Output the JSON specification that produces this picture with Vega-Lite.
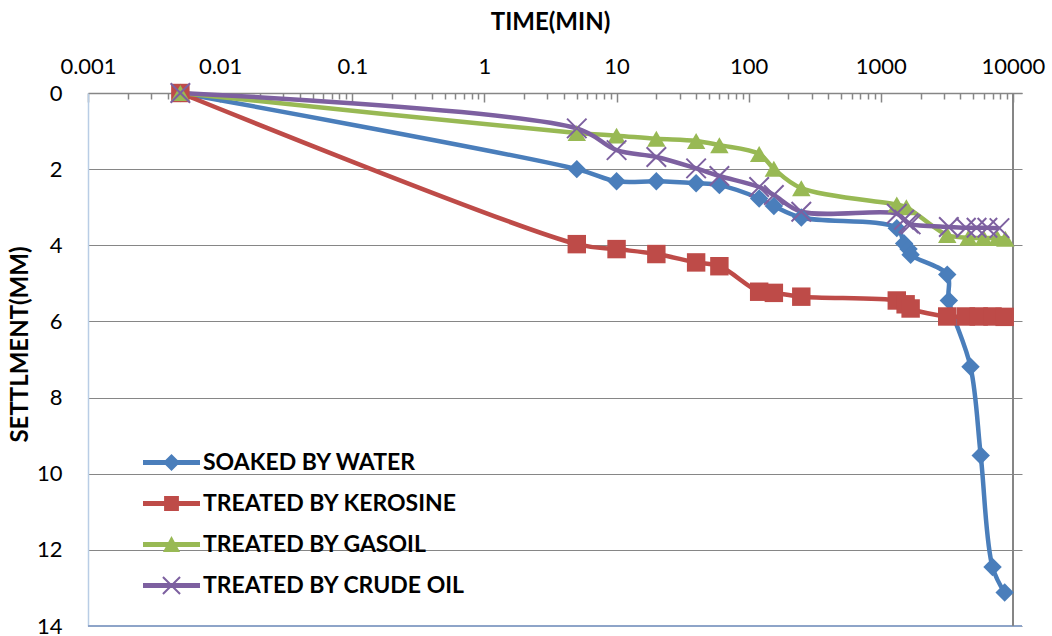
{
  "$schema": "https://vega.github.io/schema/vega-lite/v6.json",
  "width": 934,
  "height": 533,
  "autosize": "none",
  "padding": {"left": 88, "top": 93, "right": 30, "bottom": 10},
  "background": "white",
  "config": {"font": "Lato", "view": {"stroke": null}},
  "data": {"values": [
    {"series": "SOAKED BY WATER", "time": 0.005, "settlement": 0},
    {"series": "SOAKED BY WATER", "time": 5, "settlement": 2.0},
    {"series": "SOAKED BY WATER", "time": 10, "settlement": 2.32},
    {"series": "SOAKED BY WATER", "time": 20, "settlement": 2.32},
    {"series": "SOAKED BY WATER", "time": 40, "settlement": 2.37},
    {"series": "SOAKED BY WATER", "time": 60, "settlement": 2.42},
    {"series": "SOAKED BY WATER", "time": 120, "settlement": 2.77},
    {"series": "SOAKED BY WATER", "time": 155, "settlement": 2.97},
    {"series": "SOAKED BY WATER", "time": 250, "settlement": 3.27},
    {"series": "SOAKED BY WATER", "time": 1320, "settlement": 3.55},
    {"series": "SOAKED BY WATER", "time": 1500, "settlement": 3.95},
    {"series": "SOAKED BY WATER", "time": 1620, "settlement": 4.1},
    {"series": "SOAKED BY WATER", "time": 1680, "settlement": 4.25},
    {"series": "SOAKED BY WATER", "time": 3180, "settlement": 4.77},
    {"series": "SOAKED BY WATER", "time": 3270, "settlement": 5.45},
    {"series": "SOAKED BY WATER", "time": 4770, "settlement": 7.19},
    {"series": "SOAKED BY WATER", "time": 5700, "settlement": 9.52},
    {"series": "SOAKED BY WATER", "time": 7000, "settlement": 12.45},
    {"series": "SOAKED BY WATER", "time": 8650, "settlement": 13.12},
    {"series": "TREATED BY KEROSINE", "time": 0.005, "settlement": 0},
    {"series": "TREATED BY KEROSINE", "time": 5, "settlement": 3.97},
    {"series": "TREATED BY KEROSINE", "time": 10, "settlement": 4.1},
    {"series": "TREATED BY KEROSINE", "time": 20, "settlement": 4.23},
    {"series": "TREATED BY KEROSINE", "time": 40, "settlement": 4.45},
    {"series": "TREATED BY KEROSINE", "time": 60, "settlement": 4.55},
    {"series": "TREATED BY KEROSINE", "time": 120, "settlement": 5.22},
    {"series": "TREATED BY KEROSINE", "time": 155, "settlement": 5.25},
    {"series": "TREATED BY KEROSINE", "time": 250, "settlement": 5.35},
    {"series": "TREATED BY KEROSINE", "time": 1320, "settlement": 5.45},
    {"series": "TREATED BY KEROSINE", "time": 1540, "settlement": 5.55},
    {"series": "TREATED BY KEROSINE", "time": 1680, "settlement": 5.66},
    {"series": "TREATED BY KEROSINE", "time": 3180, "settlement": 5.87},
    {"series": "TREATED BY KEROSINE", "time": 4400, "settlement": 5.87},
    {"series": "TREATED BY KEROSINE", "time": 5500, "settlement": 5.87},
    {"series": "TREATED BY KEROSINE", "time": 7000, "settlement": 5.87},
    {"series": "TREATED BY KEROSINE", "time": 8650, "settlement": 5.88},
    {"series": "TREATED BY GASOIL", "time": 0.005, "settlement": 0},
    {"series": "TREATED BY GASOIL", "time": 5, "settlement": 1.05},
    {"series": "TREATED BY GASOIL", "time": 10, "settlement": 1.12},
    {"series": "TREATED BY GASOIL", "time": 20, "settlement": 1.2},
    {"series": "TREATED BY GASOIL", "time": 40, "settlement": 1.26},
    {"series": "TREATED BY GASOIL", "time": 60, "settlement": 1.37},
    {"series": "TREATED BY GASOIL", "time": 120, "settlement": 1.6},
    {"series": "TREATED BY GASOIL", "time": 155, "settlement": 1.99},
    {"series": "TREATED BY GASOIL", "time": 250, "settlement": 2.5},
    {"series": "TREATED BY GASOIL", "time": 1320, "settlement": 2.93},
    {"series": "TREATED BY GASOIL", "time": 1560, "settlement": 3.0},
    {"series": "TREATED BY GASOIL", "time": 3180, "settlement": 3.73},
    {"series": "TREATED BY GASOIL", "time": 4600, "settlement": 3.8},
    {"series": "TREATED BY GASOIL", "time": 6000, "settlement": 3.81},
    {"series": "TREATED BY GASOIL", "time": 7600, "settlement": 3.81},
    {"series": "TREATED BY GASOIL", "time": 8750, "settlement": 3.83},
    {"series": "TREATED BY CRUDE OIL", "time": 0.005, "settlement": 0},
    {"series": "TREATED BY CRUDE OIL", "time": 5, "settlement": 0.93},
    {"series": "TREATED BY CRUDE OIL", "time": 10, "settlement": 1.5},
    {"series": "TREATED BY CRUDE OIL", "time": 20, "settlement": 1.68},
    {"series": "TREATED BY CRUDE OIL", "time": 40, "settlement": 1.98},
    {"series": "TREATED BY CRUDE OIL", "time": 60, "settlement": 2.18},
    {"series": "TREATED BY CRUDE OIL", "time": 120, "settlement": 2.47},
    {"series": "TREATED BY CRUDE OIL", "time": 155, "settlement": 2.68},
    {"series": "TREATED BY CRUDE OIL", "time": 250, "settlement": 3.12},
    {"series": "TREATED BY CRUDE OIL", "time": 1320, "settlement": 3.17},
    {"series": "TREATED BY CRUDE OIL", "time": 1500, "settlement": 3.33},
    {"series": "TREATED BY CRUDE OIL", "time": 1620, "settlement": 3.42},
    {"series": "TREATED BY CRUDE OIL", "time": 1680, "settlement": 3.45},
    {"series": "TREATED BY CRUDE OIL", "time": 3270, "settlement": 3.52},
    {"series": "TREATED BY CRUDE OIL", "time": 4400, "settlement": 3.54},
    {"series": "TREATED BY CRUDE OIL", "time": 5300, "settlement": 3.54},
    {"series": "TREATED BY CRUDE OIL", "time": 6400, "settlement": 3.54},
    {"series": "TREATED BY CRUDE OIL", "time": 7900, "settlement": 3.55}
  ]},
  "layer": [
    {
      "mark": {"type": "rule", "color": "#8EA4C8", "strokeWidth": 1.5},
      "encoding": {
        "y": {
          "datum": 14, "type": "quantitative",
          "scale": {"domain": [0, 14], "reverse": true, "nice": false, "zero": false},
          "axis": {
            "orient": "left", "title": "SETTLMENT(MM)",
            "values": [0, 2, 4, 6, 8, 10, 12, 14],
            "ticks": false, "labelPadding": 26, "labelFontSize": 22, "labelColor": "black", "labelFont": "Lato",
            "grid": true, "gridColor": "#868686", "gridWidth": 1,
            "domainColor": "#B9CDE5", "domainWidth": 1.5,
            "titleFontSize": 24, "titleFontWeight": "bold", "titleColor": "black", "titleFont": "Lato",
            "titleX": -68, "titleY": 251, "titleAlign": "center", "titleBaseline": "middle", "titleAngle": -90,
            "labelFlush": false, "labelOverlap": false, "labelBound": false
          }
        }
      }
    },
    {
      "mark": {"type": "rule", "color": "#868686", "strokeWidth": 1.5},
      "encoding": {
        "x": {
          "datum": 10000, "type": "quantitative",
          "scale": {"type": "log", "domain": [0.001, 11700], "nice": false},
          "axis": {
            "orient": "top", "title": "TIME(MIN)",
            "values": [0.001,0.002,0.003,0.004,0.005,0.006,0.007,0.008,0.009,0.01,0.02,0.03,0.04,0.05,0.06,0.07,0.08,0.09,0.1,0.2,0.3,0.4,0.5,0.6,0.7,0.8,0.9,1,2,3,4,5,6,7,8,9,10,20,30,40,50,60,70,80,90,100,200,300,400,500,600,700,800,900,1000,2000,3000,4000,5000,6000,7000,8000,9000,10000],
            "labelExpr": "abs(log(datum.value)/LN10 - round(log(datum.value)/LN10)) < 0.000001 ? (datum.value < 1 ? format(datum.value, '.' + (-round(log(datum.value)/LN10)) + 'f') : format(datum.value, 'd')) : ''",
            "labelFontSize": 22, "labelColor": "black", "labelPadding": 24, "labelFont": "Lato",
            "tickColor": "#868686", "tickWidth": 1.5,
            "tickSize": {"condition": {"test": "abs(log(datum.value)/LN10 - round(log(datum.value)/LN10)) < 0.000001", "value": -9}, "value": -6},
            "domainColor": "#868686", "domainWidth": 1.5, "grid": false,
            "titleFontSize": 24, "titleFontWeight": "bold", "titleColor": "black", "titleFont": "Lato",
            "titleX": 462, "titleY": -71, "titleBaseline": "middle", "titleAlign": "center",
            "labelFlush": false, "labelOverlap": false, "labelBound": false
          }
        }
      }
    },
    {
      "mark": {"type": "line", "strokeWidth": 4.5, "interpolate": "catmull-rom"},
      "encoding": {
        "x": {"field": "time", "type": "quantitative"},
        "y": {"field": "settlement", "type": "quantitative"},
        "color": {"field": "series", "type": "nominal", "legend": null,
          "scale": {"domain": ["SOAKED BY WATER", "TREATED BY KEROSINE", "TREATED BY GASOIL", "TREATED BY CRUDE OIL"],
                    "range": ["#4A7EBB", "#BE4B48", "#98B954", "#7D60A0"]}}
      }
    },
    {
      "transform": [{"filter": "datum.series != 'TREATED BY CRUDE OIL'"}],
      "mark": {"type": "point", "filled": true, "opacity": 1, "size": 340},
      "encoding": {
        "x": {"field": "time", "type": "quantitative"},
        "y": {"field": "settlement", "type": "quantitative"},
        "color": {"field": "series", "type": "nominal", "legend": null},
        "shape": {"field": "series", "type": "nominal", "legend": null,
          "scale": {"domain": ["SOAKED BY WATER", "TREATED BY KEROSINE", "TREATED BY GASOIL"],
                    "range": ["diamond", "square", "triangle-up"]}}
      }
    },
    {
      "transform": [{"filter": "datum.series == 'TREATED BY CRUDE OIL'"}],
      "mark": {"type": "point", "filled": false, "opacity": 1, "size": 380, "strokeWidth": 2, "shape": "M-1,-1L1,1M-1,1L1,-1"},
      "encoding": {
        "x": {"field": "time", "type": "quantitative"},
        "y": {"field": "settlement", "type": "quantitative"},
        "color": {"field": "series", "type": "nominal", "legend": null}
      }
    },
    {
      "mark": {"type": "point", "filled": true, "opacity": 0},
      "encoding": {
        "x": {"field": "time", "type": "quantitative"},
        "y": {"field": "settlement", "type": "quantitative"},
        "color": {"field": "series", "type": "nominal",
          "legend": {"title": null, "orient": "none", "legendX": 55, "legendY": 341, "symbolSize": 3249, "symbolOpacity": 1, "symbolStrokeWidth": 0,
                     "labelFontSize": 23, "labelFontWeight": "bold", "labelColor": "black", "labelFont": "Lato", "labelOffset": 3, "rowPadding": -10, "padding": 0, "labelLimit": 500}},
        "shape": {"field": "series", "type": "nominal",
          "scale": {"domain": ["SOAKED BY WATER", "TREATED BY KEROSINE", "TREATED BY GASOIL", "TREATED BY CRUDE OIL"],
                    "range": [
                      "M-1,-0.085L1,-0.085L1,0.085L-1,0.085Z M-0.3,0L0,-0.3L0.3,0L0,0.3Z",
                      "M-1,-0.085L1,-0.085L1,0.085L-1,0.085Z M-0.26,-0.26L0.26,-0.26L0.26,0.26L-0.26,0.26Z",
                      "M-1,-0.085L1,-0.085L1,0.085L-1,0.085Z M-0.3,0.26L0,-0.3L0.3,0.26Z",
                      "M-1,-0.085L1,-0.085L1,0.085L-1,0.085Z M-0.275,-0.325L0.325,0.275L0.275,0.325L-0.325,-0.275Z M-0.325,0.275L0.275,-0.325L0.325,-0.275L-0.275,0.325Z"
                    ]},
          "legend": {"title": null, "orient": "none", "legendX": 55, "legendY": 341, "symbolSize": 3249, "symbolOpacity": 1, "symbolStrokeWidth": 0,
                     "labelFontSize": 23, "labelFontWeight": "bold", "labelColor": "black", "labelFont": "Lato", "labelOffset": 3, "rowPadding": -10, "padding": 0, "labelLimit": 500}}
      }
    }
  ],
  "resolve": {"scale": {"shape": "independent"}, "legend": {"shape": "independent", "color": "independent"}}
}
